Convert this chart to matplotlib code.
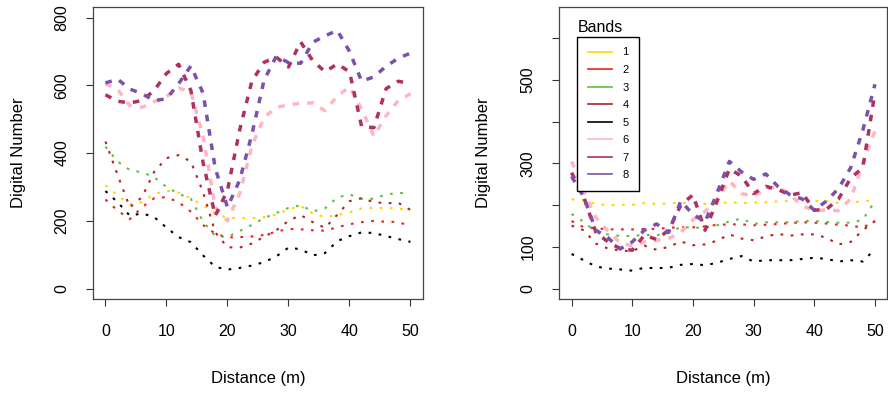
import matplotlib
matplotlib.use('Agg')
import matplotlib.pyplot as plt

plt.rcParams['font.family'] = ['Liberation Sans', 'DejaVu Sans']

distance = [0, 2, 4, 6, 8, 10, 12, 14, 16, 18, 20, 22, 24, 26, 28, 30, 32, 34, 36, 38, 40, 42, 44, 46, 48, 50]
bands = ['1', '2', '3', '4', '5', '6', '7', '8']
colors = ['#FFD700', '#EE2222', '#66BB44', '#B22222', 'black', '#FFB6C1', '#B03060', '#7B52AB']

# left transect, digital number per band
left_b1 = [305, 275, 249, 255, 279, 289, 283, 266, 246, 222, 208, 208, 208, 211, 218, 234, 244, 222, 211, 217, 225, 237, 238, 238, 236, 232]
left_b2 = [263, 230, 205, 240, 267, 270, 255, 227, 188, 162, 151, 152, 154, 158, 168, 176, 175, 172, 171, 181, 190, 196, 200, 197, 197, 183]
left_b3 = [419, 375, 350, 343, 329, 300, 280, 265, 198, 155, 152, 170, 188, 208, 223, 238, 246, 228, 237, 269, 278, 265, 265, 278, 282, 282]
left_b4 = [434, 335, 240, 270, 345, 385, 394, 375, 285, 166, 122, 121, 133, 153, 172, 200, 217, 196, 179, 218, 258, 267, 255, 252, 253, 232]
left_b5 = [288, 255, 215, 222, 211, 180, 152, 137, 98, 64, 56, 61, 68, 78, 95, 121, 116, 98, 105, 140, 155, 166, 164, 155, 146, 138]
left_b6 = [605, 588, 540, 535, 552, 567, 592, 580, 450, 240, 200, 280, 420, 505, 535, 542, 547, 548, 525, 568, 595, 530, 450, 510, 555, 575]
left_b7 = [572, 553, 548, 555, 585, 635, 662, 585, 372, 215, 290, 468, 612, 668, 683, 654, 728, 672, 640, 663, 640, 478, 475, 590, 612, 605]
left_b8 = [607, 618, 589, 575, 555, 560, 605, 657, 577, 355, 240, 320, 455, 615, 686, 667, 665, 727, 746, 762, 700, 612, 625, 656, 680, 695]

# right transect
right_b1 = [214, 212, 203, 200, 201, 201, 205, 203, 204, 206, 205, 203, 204, 207, 205, 206, 207, 209, 210, 211, 210, 210, 205, 206, 210, 211]
right_b2 = [162, 147, 145, 142, 142, 142, 143, 143, 146, 147, 147, 149, 153, 154, 154, 152, 153, 155, 157, 159, 158, 156, 153, 151, 146, 162]
right_b3 = [179, 160, 136, 130, 126, 126, 129, 128, 133, 148, 146, 146, 152, 161, 168, 155, 159, 159, 159, 162, 162, 160, 158, 158, 165, 210]
right_b4 = [151, 140, 108, 96, 91, 90, 103, 93, 100, 113, 104, 106, 115, 130, 120, 116, 125, 131, 127, 130, 130, 122, 106, 112, 140, 162]
right_b5 = [83, 68, 53, 48, 46, 43, 50, 49, 50, 57, 59, 56, 62, 71, 78, 65, 68, 68, 68, 71, 74, 71, 65, 68, 65, 95]
right_b6 = [305, 235, 170, 138, 110, 102, 112, 116, 120, 135, 165, 185, 215, 258, 228, 222, 238, 245, 225, 198, 188, 188, 187, 215, 300, 378]
right_b7 = [278, 220, 135, 112, 96, 92, 128, 118, 140, 200, 225, 140, 210, 287, 270, 228, 245, 238, 224, 230, 188, 190, 215, 265, 290, 470]
right_b8 = [269, 220, 140, 122, 95, 112, 140, 155, 135, 210, 178, 160, 230, 305, 280, 262, 275, 245, 225, 215, 188, 210, 240, 290, 380, 490]

left_data = [left_b1, left_b2, left_b3, left_b4, left_b5, left_b6, left_b7, left_b8]
right_data = [right_b1, right_b2, right_b3, right_b4, right_b5, right_b6, right_b7, right_b8]

fig = plt.figure(figsize=(8.88, 3.94), dpi=100)
ax1 = fig.add_axes([0.105, 0.240, 0.371, 0.743])
ax2 = fig.add_axes([0.630, 0.240, 0.369, 0.743])


def draw_bands(ax, data):
    for i, vals in enumerate(data):
        if i < 5:
            ax.plot(distance, vals, color=colors[i], lw=1.5, linestyle=(0, (1.3, 3.6)),
                    dash_capstyle='butt')
        else:
            ax.plot(distance, vals, color=colors[i], lw=2.5, linestyle=(0, (1.9, 2.3)),
                    dash_capstyle='butt')


def style_axes(ax, ylim, yticks, ylabels):
    ax.set_xlim(-2, 52)
    ax.set_ylim(*ylim)
    ax.set_xticks([0, 10, 20, 30, 40, 50])
    ax.set_yticks(yticks)
    ax.set_yticklabels(ylabels, rotation=90, va='center')
    ax.tick_params(direction='out', length=5, width=0.8, labelsize=11.5, color='#333333')
    ax.tick_params(axis='x', pad=13)
    ax.tick_params(axis='y', pad=12)
    for sp in ax.spines.values():
        sp.set_linewidth(0.9)
        sp.set_color('#444444')
    ax.set_xlabel('Distance (m)', fontsize=12)
    ax.set_ylabel('Digital Number', fontsize=12)
    ax.xaxis.set_label_coords(0.5, -0.245)


draw_bands(ax1, left_data)
style_axes(ax1, (-32, 832), [0, 200, 400, 600, 800], ['0', '200', '400', '600', '800'])
ax1.yaxis.set_label_coords(-0.205, 0.5)

draw_bands(ax2, right_data)
style_axes(ax2, (-26, 676), [0, 100, 200, 300, 400, 500, 600],
           ['0', '100', '', '300', '', '500', ''])
ax2.yaxis.set_label_coords(-0.21, 0.5)

# legend with solid thin swatches, title above the box
handles = [plt.Line2D([], [], color=c, lw=1.2) for c in colors]
leg = ax2.legend(handles, bands, loc='upper left', bbox_to_anchor=(0.055, 0.897),
                 borderaxespad=0, fancybox=False, framealpha=1, edgecolor='black',
                 fontsize=8, handlelength=2.2, handletextpad=0.9, labelspacing=0.68,
                 borderpad=0.95)
leg.get_frame().set_linewidth(1.0)
ax2.text(0.055, 0.905, 'Bands', transform=ax2.transAxes, fontsize=11.5, ha='left', va='bottom')

fig.savefig('out.png', dpi=100)
